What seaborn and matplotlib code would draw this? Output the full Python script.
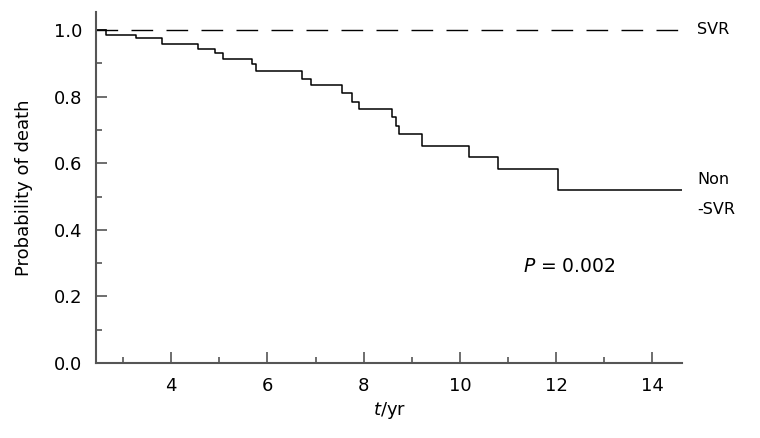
import matplotlib
matplotlib.use("Agg")
import matplotlib.pyplot as plt
import pandas as pd
import seaborn as sns

# Kaplan-Meier style step data
non_svr_time = [2.44, 2.64, 3.27, 3.81, 4.56, 4.91, 5.08, 5.68, 5.76, 6.71, 6.90,
                7.55, 7.75, 7.90, 8.58, 8.67, 8.74, 9.21, 10.19, 10.79, 12.03, 14.61]
non_svr_prob = [1.000, 0.986, 0.975, 0.959, 0.944, 0.930, 0.912, 0.897, 0.877, 0.853, 0.836,
                0.810, 0.785, 0.763, 0.740, 0.712, 0.687, 0.653, 0.620, 0.583, 0.520, 0.520]
svr_time = [2.44, 14.61]
svr_prob = [1.0, 1.0]

x_ticks = [4, 6, 8, 10, 12, 14]
y_ticks = [0.0, 0.2, 0.4, 0.6, 0.8, 1.0]

sns.set_theme(style="ticks", rc={"text.color": "black", "axes.labelcolor": "black",
                                 "xtick.color": "black", "ytick.color": "black"})
plt.rcParams["font.family"] = ["DejaVu Sans"]
plt.rcParams["mathtext.fontset"] = "dejavusans"

non_svr = pd.DataFrame({"time": non_svr_time, "prob": non_svr_prob})
svr = pd.DataFrame({"time": svr_time, "prob": svr_prob})

fig = plt.figure(figsize=(7.6, 4.38), dpi=100)
ax = fig.add_axes([0.1263, 0.1712, 0.7715, 0.8021])

sns.lineplot(data=svr, x="time", y="prob", ax=ax, color="black", linewidth=1.0,
             linestyle=(0, (15.6, 9.6)))
sns.lineplot(data=non_svr, x="time", y="prob", ax=ax, color="black", linewidth=1.1,
             drawstyle="steps-post")

ax.set_xlim(2.44, 14.62)
ax.set_ylim(0, 1.055)
ax.set_xticks(x_ticks)
ax.set_xticks([3, 5, 7, 9, 11, 13], minor=True)
ax.set_yticks(y_ticks)
ax.set_yticks([0.1, 0.3, 0.5, 0.7, 0.9], minor=True)
ax.set_yticklabels([f"{v:.1f}" for v in y_ticks])

spine_color = "#555555"
sns.despine(ax=ax)
for side in ["left", "bottom"]:
    ax.spines[side].set_color(spine_color)
    ax.spines[side].set_linewidth(1.5)
ax.tick_params(which="major", direction="in", length=8, width=1.2, color=spine_color,
               labelsize=13, labelcolor="black", pad=10)
ax.tick_params(which="minor", direction="in", length=4.5, width=1.2, color=spine_color)

ax.set_xlabel(r"$t$/yr", fontsize=13, labelpad=4)
ax.set_ylabel("Probability of death", fontsize=13, labelpad=15)

fig.text(697 / 760, 1 - 30 / 438, "SVR", fontsize=11.5, va="center")
fig.text(697 / 760, 1 - 180 / 438, "Non", fontsize=11.5, va="center")
fig.text(697 / 760, 1 - 209 / 438, "-SVR", fontsize=11.5, va="center")
fig.text(523 / 760, 1 - 266 / 438, r"$P$ = 0.002", fontsize=13.5, va="center")

fig.savefig("out.png", dpi=100)
